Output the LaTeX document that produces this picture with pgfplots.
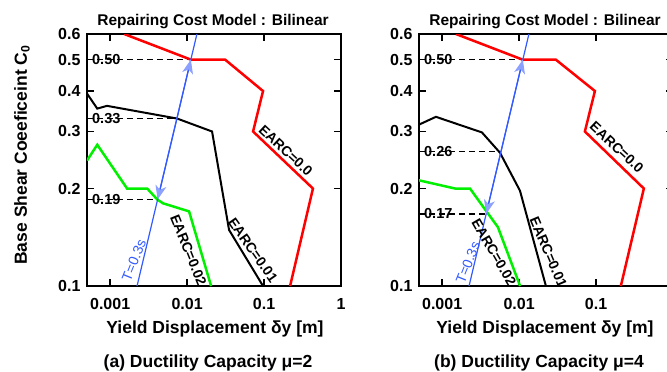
\documentclass[border=0pt]{standalone}
\usepackage{pgfplots}
\pgfplotsset{compat=1.18}
\usepackage{fontspec}
\setmainfont{Liberation Sans}
\usetikzlibrary{arrows.meta}
\definecolor{cred}{rgb}{1,0,0}
\definecolor{cgreen}{RGB}{0,240,0}
\definecolor{cblue}{RGB}{50,90,255}
\definecolor{clight}{RGB}{140,160,255}
\pgfplotsset{
  every axis/.append style={
    scale only axis, width=254bp, height=252bp,
    xmin=0.0005, xmax=1, ymin=0.1, ymax=0.6,
    ytick={0.1,0.2,0.3,0.4,0.5,0.6}, yticklabels={0.1,0.2,0.3,0.4,0.5,0.6},
    xminorticks=false, yminorticks=false,
    axis line style={line width=2.5bp},
    major tick style={line width=1.5bp, black},
    major tick length=7bp,
    tick align=inside,
    ticklabel style={font=\fontsize{16bp}{18bp}\selectfont\bfseries},
    xticklabel style={yshift=-9bp},
    yticklabel style={xshift=-3bp},
  },
}
\tikzset{
  dsh/.style={black, line width=1.5bp, dash pattern=on 6bp off 4bp},
  lbl/.style={font=\fontsize{14.5bp}{16bp}\selectfont\bfseries, anchor=west, inner sep=0pt},
  earc/.style={font=\fontsize{14bp}{16bp}\selectfont\bfseries, inner sep=0pt},
  tlab/.style={font=\fontsize{14bp}{16bp}\selectfont, text=cblue, inner sep=0pt},
  arr/.style={cblue, line width=1.2bp, -{Stealth[length=14bp,width=11bp,inset=4bp,color=clight]}},
}
\begin{document}
\begin{tikzpicture}
% ---------- panel (a) ----------
\begin{loglogaxis}[at={(87bp,86bp)}, anchor=south west,
  xtick={0.001,0.01,0.1,1}, xticklabels={0.001,0.01,0.1,1}]
\addplot[dsh] coordinates {(0.0005,0.5) (0.01118,0.5)};
\addplot[dsh] coordinates {(0.0005,0.329) (0.00738,0.329)};
\addplot[dsh] coordinates {(0.0005,0.185) (0.00414,0.185)};
\addplot[cred, line width=2.5bp] coordinates {(0.00152,0.6) (0.0112,0.5) (0.0312,0.5) (0.097,0.4) (0.072,0.3) (0.432,0.2) (0.218,0.1)};
\addplot[black, line width=2bp] coordinates {(0.0005,0.393) (0.00068,0.353) (0.00091,0.36) (0.0074,0.329) (0.0211,0.3) (0.0351,0.149) (0.097,0.1)};
\addplot[cgreen, line width=2.5bp] coordinates {(0.0005,0.244) (0.00068,0.273) (0.00166,0.2) (0.00303,0.2) (0.0041,0.185) (0.00488,0.18) (0.0106,0.17) (0.0205,0.1)};
\addplot[cblue, line width=1.2bp] coordinates {(0.002236,0.1) (0.013416,0.6)};
\addplot[arr] coordinates {(0.00738,0.329) (0.01118,0.5)};
\addplot[arr] coordinates {(0.00738,0.329) (0.00414,0.185)};
\node[lbl] at (axis cs:0.00058,0.5) {0.50};
\node[lbl] at (axis cs:0.00058,0.329) {0.33};
\node[lbl] at (axis cs:0.00058,0.185) {0.19};
\node[earc, rotate=-43] at (axis cs:0.192,0.262) {EARC=0.0};
\node[earc, rotate=-55] at (axis cs:0.0716,0.129) {EARC=0.01};
\node[earc, rotate=-68] at (axis cs:0.0104,0.129) {EARC=0.02};
\node[tlab, rotate=68] at (axis cs:0.00204,0.120) {T=0.3s};
\end{loglogaxis}
% ---------- panel (b) ----------
\begin{loglogaxis}[at={(419bp,86bp)}, anchor=south west,
  xtick={0.001,0.01,0.1}, xticklabels={0.001,0.01,0.1}]
\addplot[dsh] coordinates {(0.0005,0.5) (0.01118,0.5)};
\addplot[dsh] coordinates {(0.0005,0.26) (0.00581,0.26)};
\addplot[dsh] coordinates {(0.0005,0.167) (0.00373,0.167)};
\addplot[cred, line width=2.5bp] coordinates {(0.00151,0.6) (0.0111,0.5) (0.030,0.5) (0.0966,0.4) (0.0716,0.3) (0.418,0.2) (0.21,0.1)};
\addplot[black, line width=2bp] coordinates {(0.0005,0.315) (0.00083,0.333) (0.00329,0.298) (0.00564,0.258) (0.01026,0.197) (0.0223,0.1)};
\addplot[cgreen, line width=2.5bp] coordinates {(0.0005,0.212) (0.00147,0.2) (0.0023,0.2) (0.0037,0.171) (0.0053,0.152) (0.0103,0.1)};
\addplot[cblue, line width=1.2bp] coordinates {(0.002236,0.1) (0.013416,0.6)};
\addplot[arr] coordinates {(0.00581,0.26) (0.01118,0.5)};
\addplot[arr] coordinates {(0.00581,0.26) (0.00373,0.167)};
\node[lbl] at (axis cs:0.00058,0.5) {0.50};
\node[lbl] at (axis cs:0.00058,0.26) {0.26};
\node[lbl] at (axis cs:0.00058,0.167) {0.17};
\node[earc, rotate=-43] at (axis cs:0.186,0.268) {EARC=0.0};
\node[earc, rotate=-67] at (axis cs:0.0240,0.127) {EARC=0.01};
\node[earc, rotate=-60] at (axis cs:0.00471,0.127) {EARC=0.02};
\node[tlab, rotate=68] at (axis cs:0.00216,0.118) {T=0.3s};
\end{loglogaxis}
% ---------- outer texts ----------
\node[font=\fontsize{15.5bp}{18bp}\selectfont\bfseries, anchor=base] at (213bp,346bp) {Repairing Cost Model : Bilinear};
\node[font=\fontsize{15.5bp}{18bp}\selectfont\bfseries, anchor=base] at (545bp,346bp) {Repairing Cost Model : Bilinear};
\node[font=\fontsize{17.5bp}{20bp}\selectfont\bfseries, anchor=base] at (215bp,39bp) {Yield Displacement δy [m]};
\node[font=\fontsize{17.5bp}{20bp}\selectfont\bfseries, anchor=base] at (545bp,39bp) {Yield Displacement δy [m]};
\node[font=\fontsize{17.5bp}{20bp}\selectfont\bfseries, anchor=base] at (208bp,5bp) {(a) Ductility Capacity μ=2};
\node[font=\fontsize{17.5bp}{20bp}\selectfont\bfseries, anchor=base] at (539bp,5bp) {(b) Ductility Capacity μ=4};
\node[font=\fontsize{17.5bp}{20bp}\selectfont\bfseries, rotate=90] at (22bp,217bp) {Base Shear Coeeficeint C\textsubscript{0}};
\pgfresetboundingbox
\path[use as bounding box] (0,0) rectangle (667bp,372bp);
\end{tikzpicture}
\end{document}
